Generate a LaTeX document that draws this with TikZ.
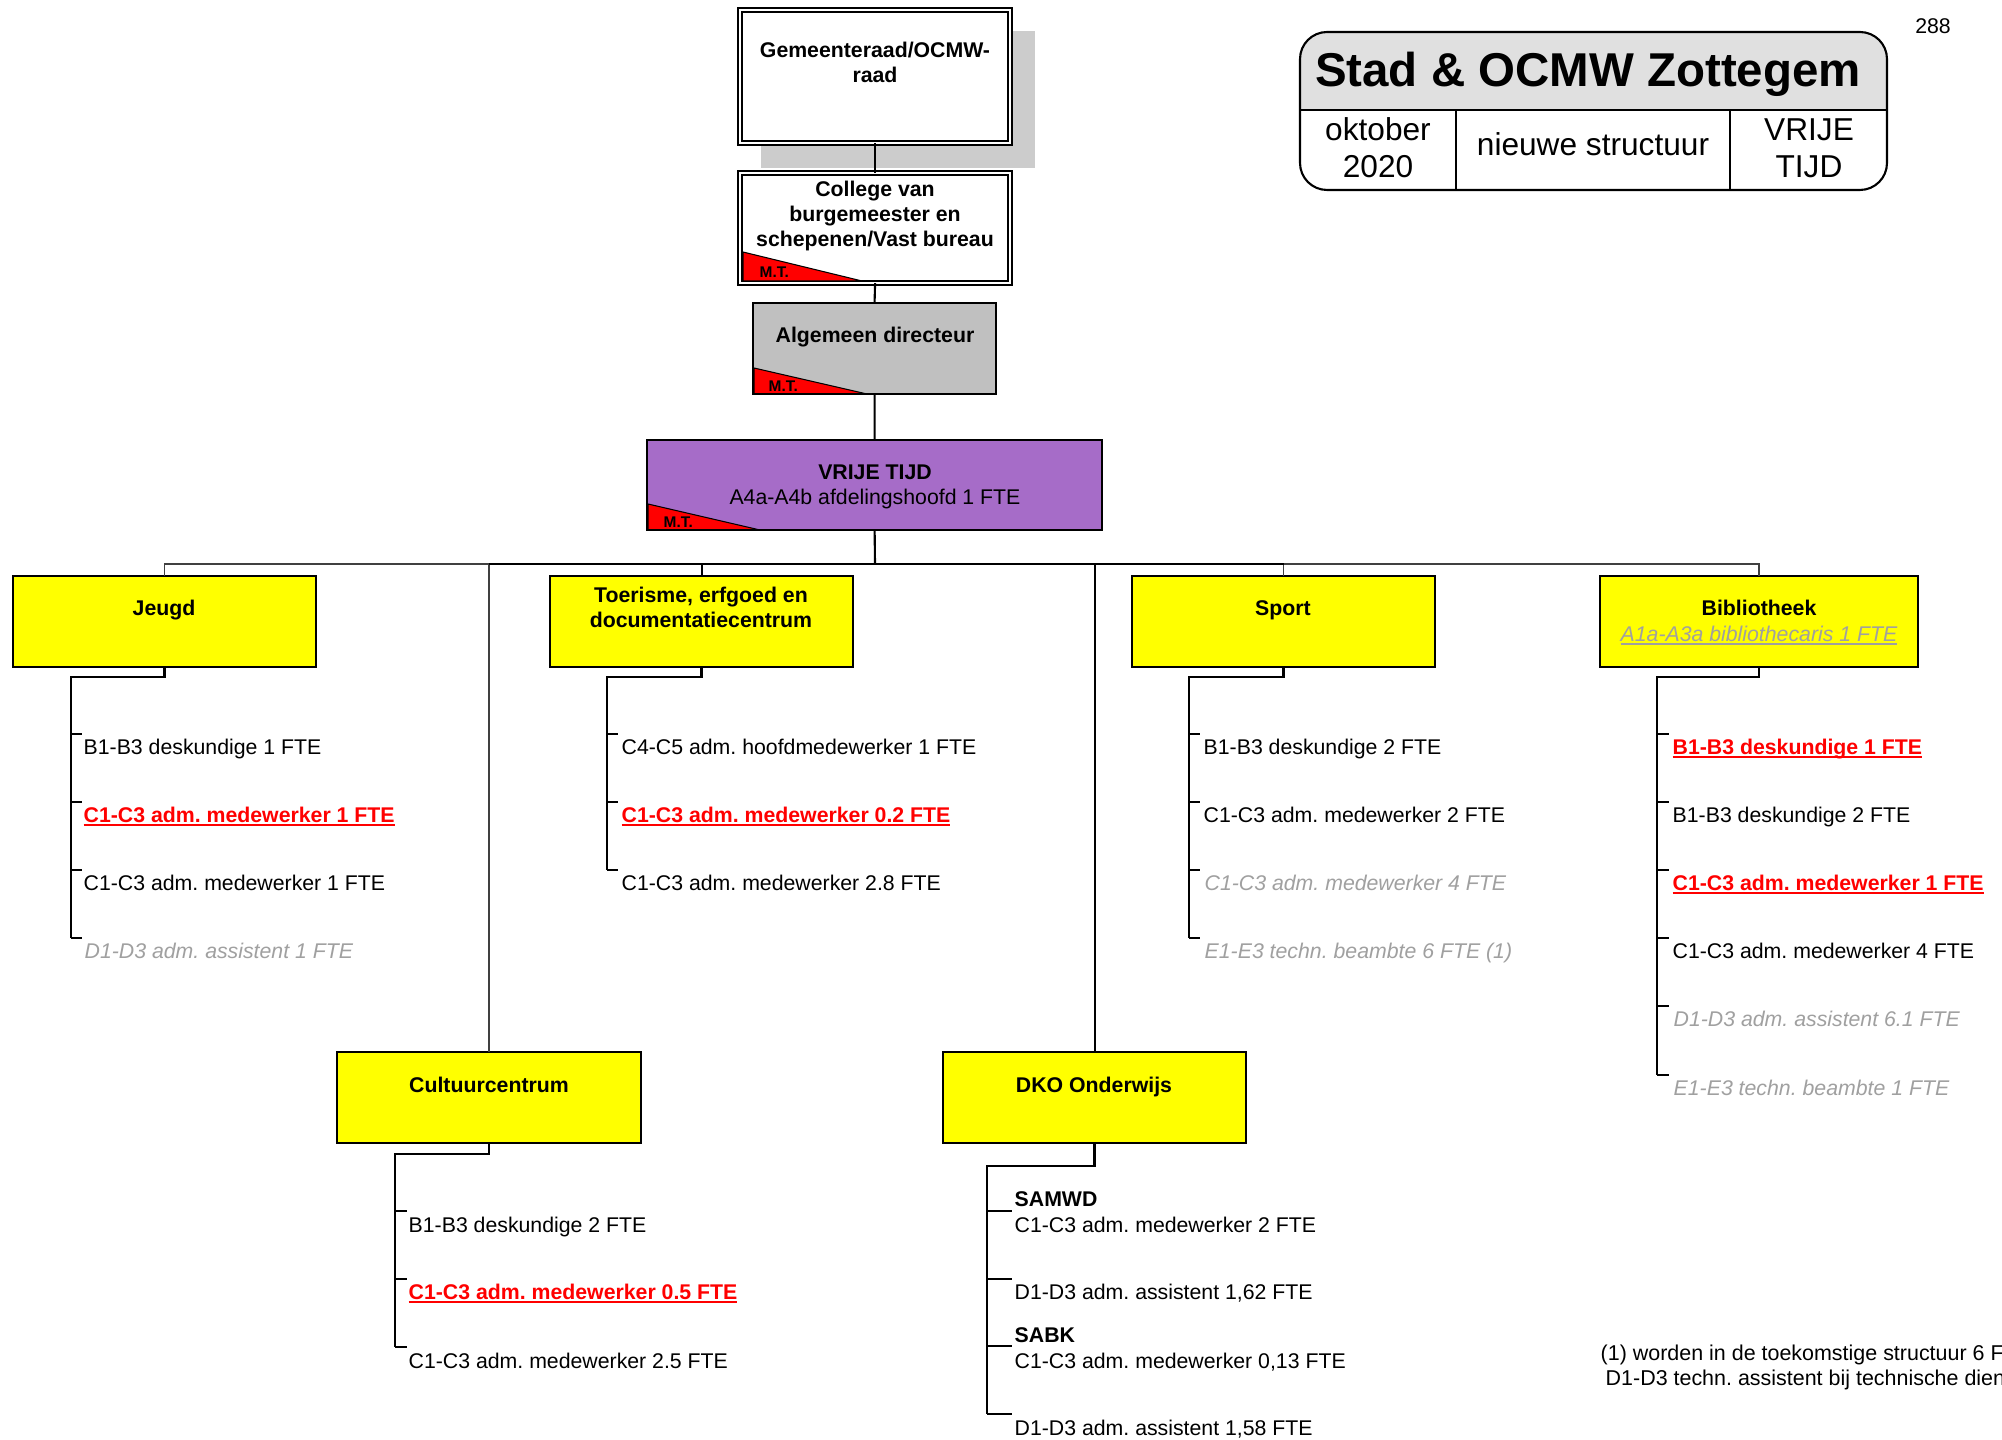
\documentclass[tikz,border=0pt]{standalone}
\usepackage{fontspec}
\setmainfont{Liberation Sans}
\definecolor{vtpurple}{RGB}{166,108,200}
\definecolor{dirgray}{RGB}{192,192,192}
\definecolor{shadowgray}{RGB}{204,204,204}
\definecolor{titlegray}{RGB}{224,224,224}
\definecolor{txtgray}{RGB}{160,160,160}
\definecolor{boxyellow}{RGB}{255,255,0}
\definecolor{mtred}{RGB}{255,0,0}
\newcommand{\ulx}[1]{\setbox0=\hbox{#1}\rlap{\rule[-0.85pt]{\wd0}{0.5pt}}\box0}
\frenchspacing
\tikzset{
  box/.style={draw, line width=0.6pt, inner sep=0pt, outer sep=0pt, anchor=north west},
  ybox/.style={box, fill=boxyellow},
  dbox/.style={draw, line width=0.55pt, double, double distance=0.65pt, fill=white, inner sep=0pt, outer sep=0pt, anchor=north west},
  lbl/.style={font=\fontsize{6.05}{7}\selectfont\bfseries, anchor=base, inner sep=0pt},
  item/.style={font=\fontsize{6.05}{7}\selectfont, anchor=base west, inner sep=0pt},
  bolditem/.style={item, font=\fontsize{6.05}{7}\selectfont\bfseries},
  reditem/.style={item, font=\fontsize{6.05}{7}\selectfont\bfseries, text=mtred},
  grayitem/.style={item, font=\fontsize{6.05}{7}\selectfont\itshape, text=txtgray},
  hdr/.style={font=\fontsize{9}{11}\selectfont, anchor=base, inner sep=0pt},
  conn/.style={line width=0.6pt},
  connthin/.style={line width=0.45pt, black!75},
  sub/.style={line width=0.75pt},
  tck/.style={line width=0.5pt},
  mt/.style={font=\fontsize{4.4}{5}\selectfont\bfseries, anchor=base west, inner sep=0pt},
  tri/.style={fill=mtred, draw=black, line width=0.3pt},
}
\begin{document}
\begin{tikzpicture}[x=0.01cm, y=-0.01cm]
\useasboundingbox (0,0) rectangle (2002,1440);
\clip (0,0) rectangle (2002,1440);
\fill[white] (0,0) rectangle (2002,1440);

% ---- top hierarchy ----
\fill[shadowgray] (761,31) rectangle (1035,168);
\node[dbox, minimum width=2.70cm, minimum height=1.33cm] (gem) at (740,10) {};
\node[dbox, minimum width=2.70cm, minimum height=1.10cm] (col) at (740,173) {};
\node[box, fill=dirgray, minimum width=2.43cm, minimum height=0.91cm] (alg) at (753,303) {};
\node[box, fill=vtpurple, minimum width=4.55cm, minimum height=0.90cm] (vt) at (647,440) {};

\filldraw[tri] (743,252) -- (862,281) -- (743,281) -- cycle;
\filldraw[tri] (754,368) -- (867,394) -- (754,394) -- cycle;
\filldraw[tri] (648,504) -- (760,530) -- (648,530) -- cycle;
\draw[line width=0.6pt] (alg.south west) -- (alg.south east);
\draw[line width=0.6pt] (vt.south west) -- (vt.south east);
\node[mt] (mt1) at (759,278) {M.T.};
\node[mt] (mt2) at (768,392) {M.T.};
\node[mt] (mt3) at (663,528) {M.T.};

\node[lbl] (gemt1) at (875,58) {Gemeenteraad/OCMW-};
\node[lbl] (gemt2) at (875,83) {raad};
\node[lbl] (colt1) at (875,197) {College van};
\node[lbl] (colt2) at (875,222) {burgemeester en};
\node[lbl] (colt3) at (875,247) {schepenen/Vast bureau};
\node[lbl] (algt) at (875,343) {Algemeen directeur};
\node[lbl] (vtt1) at (875,480) {VRIJE TIJD};
\node[lbl, font=\fontsize{6.05}{7}\selectfont] (vtt2) at (875,505) {A4a-A4b afdelingshoofd 1 FTE};

\draw[conn] (gem.south) -- (col.north);
\draw[conn] (col.south) -- (alg.north);
\draw[conn] (alg.south) -- (vt.north);

% ---- departments ----
\node[ybox, minimum width=3.03cm, minimum height=0.91cm] (jeugd) at (13,576) {};
\node[ybox, minimum width=3.03cm, minimum height=0.91cm] (toer) at (550,576) {};
\node[ybox, minimum width=3.03cm, minimum height=0.91cm] (sport) at (1132,576) {};
\node[ybox, minimum width=3.18cm, minimum height=0.91cm] (bib) at (1600,576) {};
\node[ybox, minimum width=3.04cm, minimum height=0.91cm] (cul) at (337,1052) {};
\node[ybox, minimum width=3.03cm, minimum height=0.91cm] (dko) at (943,1052) {};

\node[lbl] (jeugdt) at (164,616) {Jeugd};
\node[lbl] (toert1) at (701,603) {Toerisme, erfgoed en};
\node[lbl] (toert2) at (701,628) {documentatiecentrum};
\node[lbl] (sportt) at (1283,616) {Sport};
\node[lbl] (bibt1) at (1759,616) {Bibliotheek};
\node[grayitem, anchor=base] (bibt2) at (1759,642) {\ulx{A1a-A3a bibliothecaris 1 FTE}};
\node[lbl] (cult) at (489,1093) {Cultuurcentrum};
\node[lbl] (dkot) at (1094,1093) {DKO Onderwijs};

% ---- bus ----
\coordinate (bus) at (875,564);
\draw[connthin] (bus) -| (jeugd.north);
\draw[connthin] (bus) -| (bib.north);
\draw[connthin] (bus) -| (cul.north);
\draw[connthin] (bus) -| (sport.north);
\draw[conn] (bus) -| (toer.north);
\draw[conn] (bus) -| (dko.north);
\draw[conn] (cul.north |- bus) -- (sport.north |- bus);
\draw[conn] (vt.south) -- (bus);

% ---- Jeugd list ----
\coordinate (jv) at (71,677);
\coordinate (jt1) at (82,734);
\coordinate (jt2) at (82,802);
\coordinate (jt3) at (82,870);
\coordinate (jt4) at (82,938);
\node[item] (j1) at (83,755) {B1-B3 deskundige 1 FTE};
\node[reditem] (j2) at (83,823) {\ulx{C1-C3 adm. medewerker 1 FTE}};
\node[item] (j3) at (83,891) {C1-C3 adm. medewerker 1 FTE};
\node[grayitem] (j4) at (84,959) {D1-D3 adm. assistent 1 FTE};
\draw[sub] (jeugd.south) |- (jv) -- (jv |- jt4);
\foreach \q in {1,...,4} \draw[tck] (jv |- jt\q) -- (jt\q);

% ---- Toerisme list ----
\coordinate (tv) at (607,677);
\coordinate (tt1) at (618,734);
\coordinate (tt2) at (618,802);
\coordinate (tt3) at (618,870);
\node[item] (t1) at (621,755) {C4-C5 adm. hoofdmedewerker 1 FTE};
\node[reditem] (t2) at (621,823) {\ulx{C1-C3 adm. medewerker 0.2 FTE}};
\node[item] (t3) at (621,891) {C1-C3 adm. medewerker 2.8 FTE};
\draw[sub] (toer.south) |- (tv) -- (tv |- tt3);
\foreach \q in {1,...,3} \draw[tck] (tv |- tt\q) -- (tt\q);

% ---- Sport list ----
\coordinate (sv) at (1189,677);
\coordinate (st1) at (1200,734);
\coordinate (st2) at (1200,802);
\coordinate (st3) at (1200,870);
\coordinate (st4) at (1200,938);
\node[item] (s1) at (1203,755) {B1-B3 deskundige 2 FTE};
\node[item] (s2) at (1203,823) {C1-C3 adm. medewerker 2 FTE};
\node[grayitem] (s3) at (1204,891) {C1-C3 adm. medewerker 4 FTE};
\node[grayitem] (s4) at (1204,959) {E1-E3 techn. beambte 6 FTE (1)};
\draw[sub] (sport.south) |- (sv) -- (sv |- st4);
\foreach \q in {1,...,4} \draw[tck] (sv |- st\q) -- (st\q);

% ---- Bibliotheek list ----
\coordinate (bv) at (1657,677);
\coordinate (bt1) at (1669,734);
\coordinate (bt2) at (1669,802);
\coordinate (bt3) at (1669,870);
\coordinate (bt4) at (1669,938);
\coordinate (bt5) at (1669,1006);
\coordinate (bt6) at (1669,1075);
\node[reditem] (b1) at (1672,755) {\ulx{B1-B3 deskundige 1 FTE}};
\node[item] (b2) at (1672,823) {B1-B3 deskundige 2 FTE};
\node[reditem] (b3) at (1672,891) {\ulx{C1-C3 adm. medewerker 1 FTE}};
\node[item] (b4) at (1672,959) {C1-C3 adm. medewerker 4 FTE};
\node[grayitem] (b5) at (1673,1027) {D1-D3 adm. assistent 6.1 FTE};
\node[grayitem] (b6) at (1673,1096) {E1-E3 techn. beambte 1 FTE};
\draw[sub] (bib.south) |- (bv) -- (bv |- bt6);
\foreach \q in {1,...,6} \draw[tck] (bv |- bt\q) -- (bt\q);

% ---- Cultuurcentrum list ----
\coordinate (cv) at (395,1154);
\coordinate (ct1) at (407,1211);
\coordinate (ct2) at (407,1279);
\coordinate (ct3) at (407,1347);
\node[item] (c1) at (408,1232) {B1-B3 deskundige 2 FTE};
\node[reditem] (c2) at (408,1300) {\ulx{C1-C3 adm. medewerker 0.5 FTE}};
\node[item] (c3) at (408,1368) {C1-C3 adm. medewerker 2.5 FTE};
\draw[sub] (cul.south) |- (cv) -- (cv |- ct3);
\foreach \q in {1,...,3} \draw[tck] (cv |- ct\q) -- (ct\q);

% ---- DKO list ----
\coordinate (dv) at (987,1166);
\coordinate (dt1) at (1012,1211);
\coordinate (dt2) at (1012,1279);
\coordinate (dt3) at (1012,1346);
\coordinate (dt4) at (1012,1414);
\node[bolditem] (d0) at (1014,1206) {SAMWD};
\node[item] (d1) at (1014,1232) {C1-C3 adm. medewerker 2 FTE};
\node[item] (d2) at (1014,1300) {D1-D3 adm. assistent 1,62 FTE};
\node[bolditem] (d3a) at (1014,1342) {SABK};
\node[item] (d3) at (1014,1368) {C1-C3 adm. medewerker 0,13 FTE};
\node[item] (d4) at (1014,1435) {D1-D3 adm. assistent 1,58 FTE};
\draw[sub] (dko.south) |- (dv) -- (dv |- dt4);
\foreach \q in {1,...,4} \draw[tck] (dv |- dt\q) -- (dt\q);

% ---- title block ----
\begin{scope}
  \clip (1300,32) rectangle (1887,110);
  \fill[titlegray, rounded corners=7.7pt] (1300,32) rectangle (1887,190);
\end{scope}
\draw[line width=0.6pt, rounded corners=7.7pt] (1300,32) rectangle (1887,190);
\draw[line width=0.6pt] (1300,110) -- (1887,110);
\draw[line width=0.6pt] (1456,110) -- (1456,190);
\draw[line width=0.6pt] (1730,110) -- (1730,190);
\node[font=\fontsize{13.5}{16}\selectfont\bfseries, anchor=base, inner sep=0pt] (ttl) at (1588,87) {Stad \& OCMW Zottegem};
\node[hdr] (okt1) at (1378,141) {oktober};
\node[hdr] (okt2) at (1378,178) {2020};
\node[hdr] (nieuw) at (1593,156) {nieuwe structuur};
\node[hdr] (vr1) at (1809,141) {VRIJE};
\node[hdr] (vr2) at (1809,178) {TIJD};
\node[item, anchor=base] (pg) at (1933,34) {288};

% ---- footnote (cut off by the page edge, as in the picture) ----
\node[item, font=\fontsize{6.1}{7}\selectfont] (fn1) at (1600,1360) {(1) worden in de toekomstige structuur 6 F};
\node[item, font=\fontsize{6.1}{7}\selectfont] (fn2) at (1605,1385) {D1-D3 techn. assistent bij technische dien};
\end{tikzpicture}
\end{document}
